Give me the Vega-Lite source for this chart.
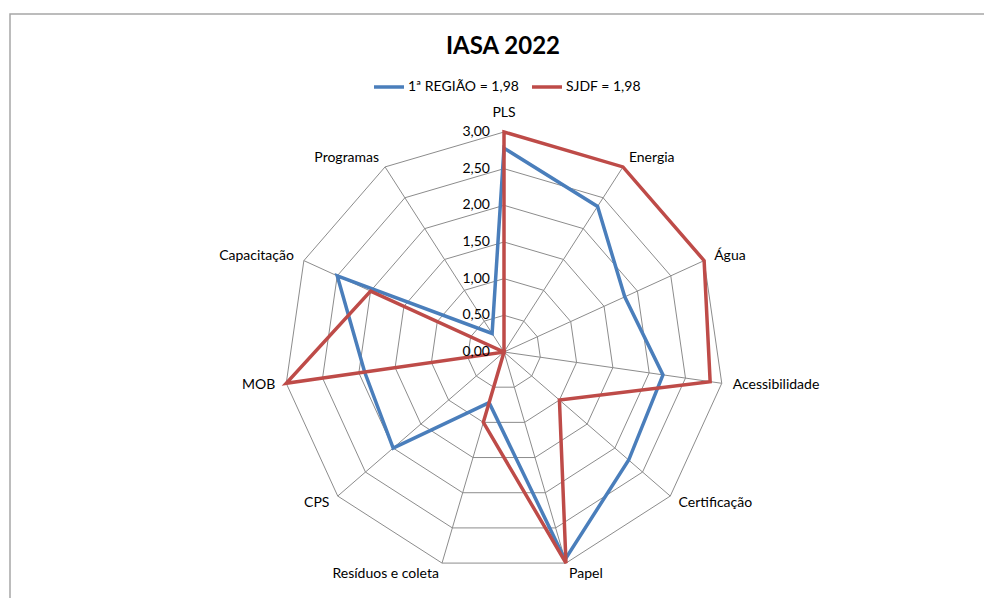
{
  "$schema": "https://vega.github.io/schema/vega-lite/v6.json",
  "autosize": {"type": "none"},
  "padding": {"left": 10, "top": 14, "right": 0, "bottom": 0},
  "width": 990,
  "height": 600,
  "background": "white",
  "title": {"text": "IASA 2022", "font": "Lato", "fontSize": 24, "fontWeight": "bold", "color": "#000000", "anchor": "start", "dx": 436, "offset": -64, "baseline": "alphabetic"},
  "config": {"view": {"stroke": "#a6a6a6", "strokeWidth": 1.5}, "font": "Lato"},
  "datasets": {
    "eixos": [
      {"eixo": "PLS", "i": 0, "niveis": [0.5, 1, 1.5, 2, 2.5, 3]},
      {"eixo": "Energia", "i": 1, "niveis": [0.5, 1, 1.5, 2, 2.5, 3]},
      {"eixo": "Água", "i": 2, "niveis": [0.5, 1, 1.5, 2, 2.5, 3]},
      {"eixo": "Acessibilidade", "i": 3, "niveis": [0.5, 1, 1.5, 2, 2.5, 3]},
      {"eixo": "Certificação", "i": 4, "niveis": [0.5, 1, 1.5, 2, 2.5, 3]},
      {"eixo": "Papel", "i": 5, "niveis": [0.5, 1, 1.5, 2, 2.5, 3]},
      {"eixo": "Resíduos e coleta", "i": 6, "niveis": [0.5, 1, 1.5, 2, 2.5, 3]},
      {"eixo": "CPS", "i": 7, "niveis": [0.5, 1, 1.5, 2, 2.5, 3]},
      {"eixo": "MOB", "i": 8, "niveis": [0.5, 1, 1.5, 2, 2.5, 3]},
      {"eixo": "Capacitação", "i": 9, "niveis": [0.5, 1, 1.5, 2, 2.5, 3]},
      {"eixo": "Programas", "i": 10, "niveis": [0.5, 1, 1.5, 2, 2.5, 3]}
    ],
    "niveis": [
      {"nivel": 0, "rotulo": "0,00"},
      {"nivel": 0.5, "rotulo": "0,50"},
      {"nivel": 1, "rotulo": "1,00"},
      {"nivel": 1.5, "rotulo": "1,50"},
      {"nivel": 2, "rotulo": "2,00"},
      {"nivel": 2.5, "rotulo": "2,50"},
      {"nivel": 3, "rotulo": "3,00"}
    ],
    "notas": [
      {"serie": "1ª REGIÃO = 1,98", "eixo": "PLS", "i": 0, "valor": 2.78},
      {"serie": "1ª REGIÃO = 1,98", "eixo": "Energia", "i": 1, "valor": 2.36},
      {"serie": "1ª REGIÃO = 1,98", "eixo": "Água", "i": 2, "valor": 1.81},
      {"serie": "1ª REGIÃO = 1,98", "eixo": "Acessibilidade", "i": 3, "valor": 2.19},
      {"serie": "1ª REGIÃO = 1,98", "eixo": "Certificação", "i": 4, "valor": 2.25},
      {"serie": "1ª REGIÃO = 1,98", "eixo": "Papel", "i": 5, "valor": 2.95},
      {"serie": "1ª REGIÃO = 1,98", "eixo": "Resíduos e coleta", "i": 6, "valor": 0.72},
      {"serie": "1ª REGIÃO = 1,98", "eixo": "CPS", "i": 7, "valor": 2.0},
      {"serie": "1ª REGIÃO = 1,98", "eixo": "MOB", "i": 8, "valor": 1.92},
      {"serie": "1ª REGIÃO = 1,98", "eixo": "Capacitação", "i": 9, "valor": 2.5},
      {"serie": "1ª REGIÃO = 1,98", "eixo": "Programas", "i": 10, "valor": 0.3},
      {"serie": "SJDF = 1,98", "eixo": "PLS", "i": 0, "valor": 3.0},
      {"serie": "SJDF = 1,98", "eixo": "Energia", "i": 1, "valor": 3.0},
      {"serie": "SJDF = 1,98", "eixo": "Água", "i": 2, "valor": 3.0},
      {"serie": "SJDF = 1,98", "eixo": "Acessibilidade", "i": 3, "valor": 2.84},
      {"serie": "SJDF = 1,98", "eixo": "Certificação", "i": 4, "valor": 1.0},
      {"serie": "SJDF = 1,98", "eixo": "Papel", "i": 5, "valor": 3.0},
      {"serie": "SJDF = 1,98", "eixo": "Resíduos e coleta", "i": 6, "valor": 1.0},
      {"serie": "SJDF = 1,98", "eixo": "CPS", "i": 7, "valor": 0.0},
      {"serie": "SJDF = 1,98", "eixo": "MOB", "i": 8, "valor": 3.0},
      {"serie": "SJDF = 1,98", "eixo": "Capacitação", "i": 9, "valor": 2.0},
      {"serie": "SJDF = 1,98", "eixo": "Programas", "i": 10, "valor": 0.0}
    ]
  },
  "layer": [
    {
      "data": {"name": "eixos"},
      "transform": [
        {"flatten": ["niveis"], "as": ["nivel"]},
        {"calculate": "datum.i * 2 * PI / 11", "as": "ang"},
        {"calculate": "datum.nivel * sin(datum.ang)", "as": "gx"},
        {"calculate": "datum.nivel * cos(datum.ang)", "as": "gy"}
      ],
      "mark": {"type": "line", "interpolate": "linear-closed", "stroke": "#8c8c8c", "strokeWidth": 1},
      "encoding": {
        "x": {"field": "gx", "type": "quantitative", "scale": {"domain": [-6.7364, 6.7636], "nice": false, "zero": false}, "axis": null},
        "y": {"field": "gy", "type": "quantitative", "scale": {"domain": [-3.5727, 4.6091], "nice": false, "zero": false}, "axis": null},
        "detail": {"field": "nivel", "type": "nominal"},
        "order": {"field": "i", "type": "quantitative"}
      }
    },
    {
      "data": {"name": "eixos"},
      "transform": [
        {"calculate": "datum.i * 2 * PI / 11", "as": "ang"},
        {"calculate": "3 * sin(datum.ang)", "as": "sx"},
        {"calculate": "3 * cos(datum.ang)", "as": "sy"}
      ],
      "mark": {"type": "rule", "stroke": "#8c8c8c", "strokeWidth": 1},
      "encoding": {
        "x": {"field": "sx", "type": "quantitative"},
        "y": {"field": "sy", "type": "quantitative"},
        "x2": {"datum": 0},
        "y2": {"datum": 0}
      }
    },
    {
      "data": {"name": "notas"},
      "transform": [
        {"calculate": "datum.i * 2 * PI / 11", "as": "ang"},
        {"calculate": "datum.valor * sin(datum.ang)", "as": "px"},
        {"calculate": "datum.valor * cos(datum.ang)", "as": "py"}
      ],
      "mark": {"type": "line", "interpolate": "linear-closed", "strokeWidth": 3.5, "strokeJoin": "miter"},
      "encoding": {
        "x": {"field": "px", "type": "quantitative"},
        "y": {"field": "py", "type": "quantitative"},
        "order": {"field": "i", "type": "quantitative"},
        "color": {
          "field": "serie", "type": "nominal",
          "scale": {"domain": ["1ª REGIÃO = 1,98", "SJDF = 1,98"], "range": ["#4A7EBB", "#BE4B48"]},
          "legend": {"orient": "none", "legendX": 362, "legendY": 56, "direction": "horizontal", "title": null, "symbolType": "stroke", "symbolSize": 900, "symbolStrokeWidth": 3.5, "labelFont": "Lato", "labelFontSize": 14, "labelColor": "#000000", "columnPadding": 6, "labelOffset": 2}
        }
      }
    },
    {
      "data": {"name": "eixos"},
      "transform": [
        {"filter": "datum.i == 0"},
        {"calculate": "datum.i * 2 * PI / 11", "as": "ang"},
        {"calculate": "3.15 * sin(datum.ang)", "as": "lx"},
        {"calculate": "3.15 * cos(datum.ang)", "as": "ly"}
      ],
      "mark": {"type": "text", "align": "center", "baseline": "middle", "dy": -8, "fontSize": 14, "color": "#000000"},
      "encoding": {
        "x": {"field": "lx", "type": "quantitative"},
        "y": {"field": "ly", "type": "quantitative"},
        "text": {"field": "eixo"}
      }
    },
    {
      "data": {"name": "eixos"},
      "transform": [
        {"filter": "datum.i >= 1 && datum.i <= 5"},
        {"calculate": "datum.i * 2 * PI / 11", "as": "ang"},
        {"calculate": "3.15 * sin(datum.ang)", "as": "lx"},
        {"calculate": "3.15 * cos(datum.ang)", "as": "ly"}
      ],
      "mark": {"type": "text", "align": "left", "baseline": "middle", "fontSize": 14, "color": "#000000"},
      "encoding": {
        "x": {"field": "lx", "type": "quantitative"},
        "y": {"field": "ly", "type": "quantitative"},
        "text": {"field": "eixo"}
      }
    },
    {
      "data": {"name": "eixos"},
      "transform": [
        {"filter": "datum.i >= 6"},
        {"calculate": "datum.i * 2 * PI / 11", "as": "ang"},
        {"calculate": "3.15 * sin(datum.ang)", "as": "lx"},
        {"calculate": "3.15 * cos(datum.ang)", "as": "ly"}
      ],
      "mark": {"type": "text", "align": "right", "baseline": "middle", "fontSize": 14, "color": "#000000"},
      "encoding": {
        "x": {"field": "lx", "type": "quantitative"},
        "y": {"field": "ly", "type": "quantitative"},
        "text": {"field": "eixo"}
      }
    },
    {
      "data": {"name": "niveis"},
      "mark": {"type": "text", "align": "right", "baseline": "middle", "dx": -14, "fontSize": 14, "color": "#000000"},
      "encoding": {
        "x": {"datum": 0, "type": "quantitative"},
        "y": {"field": "nivel", "type": "quantitative"},
        "text": {"field": "rotulo"}
      }
    }
  ]
}
